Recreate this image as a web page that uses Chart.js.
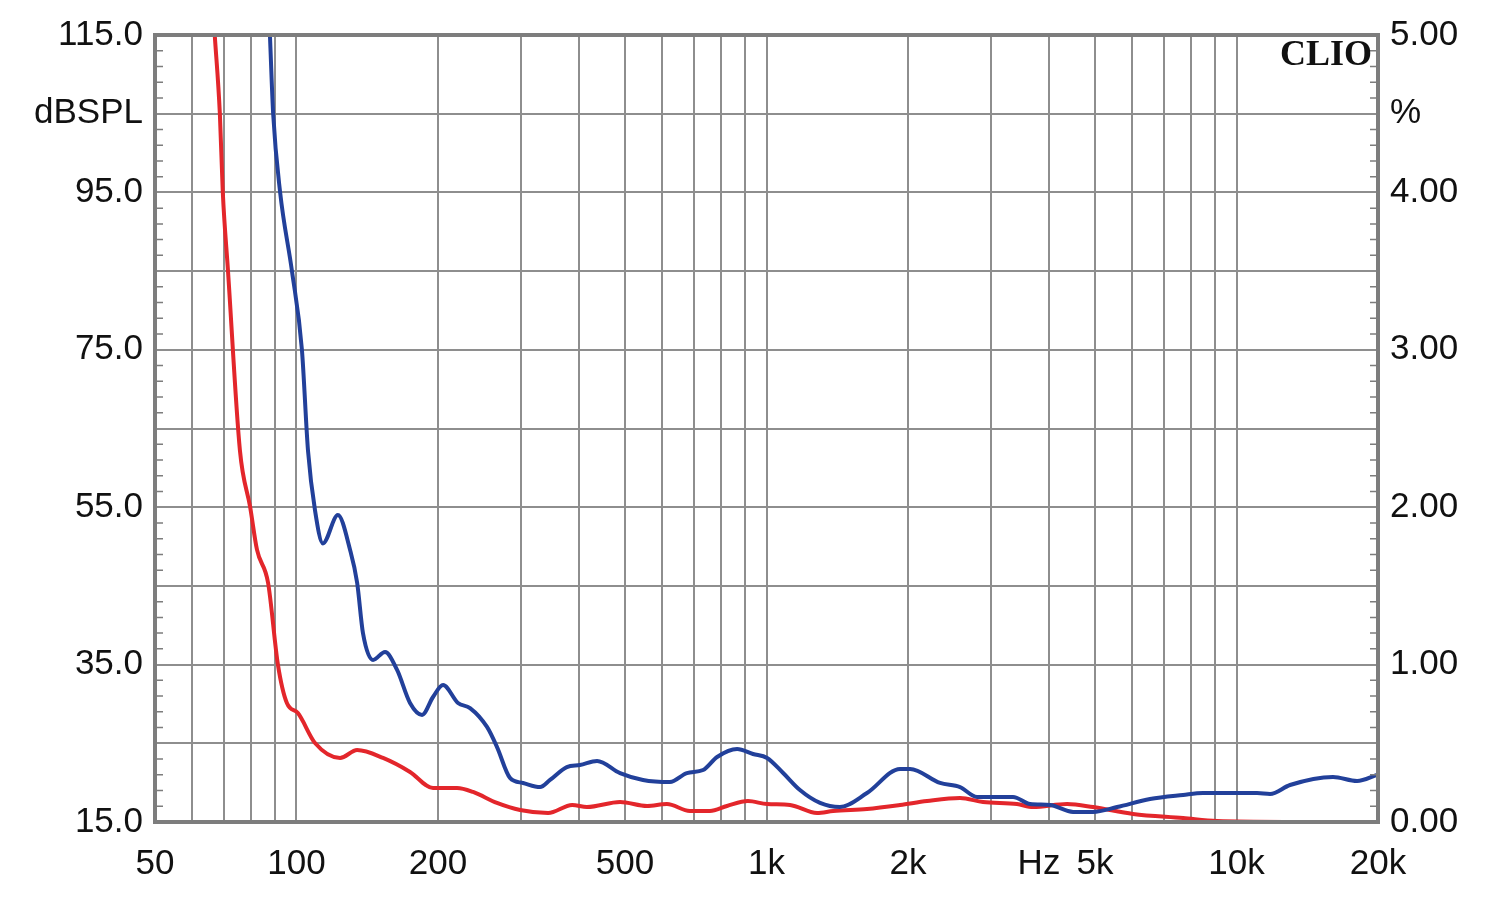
<!DOCTYPE html>
<head>
    <title>CLIO</title>
    <meta charset="utf-8">
    <script src="https://cdn.jsdelivr.net/npm/chart.js"></script>
    <style>
        body { margin: 0; background: #fff; }
    </style>
</head>
<body>
    <canvas id="myChart" width="1500" height="899"></canvas>
    <script>
        // curves, values in % (right axis)
        const redFreq = [67, 68.7, 69.7, 71.5, 75.8, 79.7, 82.4, 87, 91.3, 95.4, 100.7, 109.5, 123.8, 134.6, 152.8, 174.4, 195.2, 219.6, 237.5, 267, 299, 343, 386, 415, 488, 557, 614, 687, 758, 824, 913, 1003, 1122, 1281, 1386, 1636, 1924, 2196, 2581, 2889, 3412, 3690, 4360, 4950, 6022, 7696, 9090, 14124];
        const redPct = [5.0, 4.5, 4.0, 3.5, 2.36, 2.0, 1.73, 1.52, 1.0, 0.756, 0.692, 0.502, 0.407, 0.457, 0.407, 0.318, 0.216, 0.216, 0.191, 0.121, 0.076, 0.057, 0.108, 0.095, 0.127, 0.102, 0.114, 0.07, 0.07, 0.102, 0.133, 0.114, 0.108, 0.057, 0.07, 0.083, 0.108, 0.133, 0.152, 0.127, 0.114, 0.095, 0.114, 0.095, 0.051, 0.025, 0.006, 0.0];
        const blueFreq = [87.8, 89.2, 92.3, 97.8, 102.7, 105.8, 109.5, 113.8, 122.5, 130, 134.6, 138.5, 145.5, 154.3, 163.7, 174.4, 185, 195.2, 205, 220.6, 234, 254.3, 267.1, 284.6, 303.4, 329.8, 346.3, 376, 401, 436, 488, 546, 623, 677, 733, 785, 866, 936, 1003, 1085, 1178, 1300, 1433, 1636, 1924, 2021, 2340, 2581, 2805, 3346, 3637, 4011, 4490, 4950, 5571, 6545, 7696, 8489, 11056, 11784, 12997, 16045, 18050, 19905];
        const bluePct = [5.0, 4.5, 4.0, 3.5, 3.0, 2.36, 1.98, 1.77, 1.95, 1.73, 1.52, 1.2, 1.03, 1.08, 0.966, 0.756, 0.68, 0.794, 0.87, 0.756, 0.724, 0.604, 0.476, 0.28, 0.248, 0.222, 0.267, 0.349, 0.362, 0.388, 0.311, 0.267, 0.254, 0.311, 0.33, 0.413, 0.464, 0.432, 0.407, 0.311, 0.203, 0.121, 0.095, 0.184, 0.337, 0.337, 0.248, 0.222, 0.159, 0.159, 0.114, 0.108, 0.064, 0.064, 0.095, 0.146, 0.172, 0.184, 0.184, 0.178, 0.235, 0.286, 0.26, 0.299];

        // axis ticks and labels
        const xTicks = [50, 60, 70, 80, 90, 100, 200, 300, 400, 500, 600, 700, 800, 900, 1000, 2000, 3000, 3800, 4000, 5000, 6000, 7000, 8000, 9000, 10000, 20000];
        const xLabels = {50: '50', 100: '100', 200: '200', 500: '500', 1000: '1k', 2000: '2k', 3800: 'Hz', 5000: '5k', 10000: '10k', 20000: '20k'};
        const leftLabels = {115: '115.0', 105: 'dBSPL', 95: '95.0', 75: '75.0', 55: '55.0', 35: '35.0', 15: '15.0'};
        const rightLabels = {5: '5.00', 4.5: '%', 4: '4.00', 3: '3.00', 2: '2.00', 1: '1.00', 0: '0.00'};

        const gridColor = '#8e8e8e';
        const frameColor = '#7d7d7d';
        const tickFont = {family: '"Liberation Sans", Arial, sans-serif', size: 35};

        function points(freq, vals) {
            return freq.map((f, i) => ({x: f, y: vals[i]}));
        }

        // frame, small inner ticks and the CLIO mark
        const frame = {
            id: 'frame',
            afterDatasetsDraw(chart) {
                const ctx = chart.ctx;
                const a = chart.chartArea;
                const y = chart.scales.y;
                ctx.save();
                ctx.strokeStyle = frameColor;
                ctx.lineWidth = 4;
                ctx.strokeRect(a.left, a.top, a.right - a.left, a.bottom - a.top);
                ctx.lineWidth = 1.5;
                ctx.beginPath();
                for (let v = 15; v <= 115; v += 2) {
                    if ((v - 15) % 10 == 0) continue;
                    const py = y.getPixelForValue(v);
                    ctx.moveTo(a.left, py);
                    ctx.lineTo(a.left + 8, py);
                    ctx.moveTo(a.right - 8, py);
                    ctx.lineTo(a.right, py);
                }
                ctx.stroke();
                ctx.fillStyle = '#111';
                ctx.font = 'bold 36px "Liberation Serif", serif';
                ctx.textAlign = 'right';
                ctx.textBaseline = 'alphabetic';
                ctx.fillText('CLIO', a.right - 6, 65);
                ctx.restore();
            }
        };

        const ctx = document.getElementById('myChart');
        new Chart(ctx, {
            type: 'line',
            data: {
                datasets: [{
                    label: 'blue',
                    data: points(blueFreq, bluePct),
                    borderColor: '#22409a',
                    borderWidth: 4,
                    pointRadius: 0,
                    cubicInterpolationMode: 'monotone',
                    yAxisID: 'yR'
                }, {
                    label: 'red',
                    data: points(redFreq, redPct),
                    borderColor: '#e3262b',
                    borderWidth: 4,
                    pointRadius: 0,
                    cubicInterpolationMode: 'monotone',
                    yAxisID: 'yR'
                }]
            },
            options: {
                responsive: false,
                animation: false,
                layout: {padding: {top: 35}},
                plugins: {legend: {display: false}, tooltip: {enabled: false}},
                scales: {
                    x: {
                        type: 'logarithmic',
                        min: 50,
                        max: 20000,
                        afterBuildTicks: s => { s.ticks = xTicks.map(v => ({value: v})); },
                        afterFit: s => { s.height = 77; },
                        ticks: {
                            autoSkip: false,
                            maxRotation: 0,
                            padding: 21,
                            color: '#111',
                            font: tickFont,
                            callback: v => xLabels[v] || ''
                        },
                        grid: {
                            color: c => (c.tick && c.tick.value == 3800) ? 'rgba(0,0,0,0)' : gridColor,
                            lineWidth: 2,
                            drawTicks: false
                        },
                        border: {color: frameColor, width: 4}
                    },
                    y: {
                        position: 'left',
                        min: 15,
                        max: 115,
                        afterFit: s => { s.width = 155; },
                        ticks: {
                            stepSize: 10,
                            padding: 12,
                            color: '#111',
                            font: tickFont,
                            callback: v => leftLabels[v] || ''
                        },
                        grid: {color: gridColor, lineWidth: 2, drawTicks: false},
                        border: {color: frameColor, width: 4}
                    },
                    yR: {
                        position: 'right',
                        min: 0,
                        max: 5,
                        afterFit: s => { s.width = 122; },
                        ticks: {
                            stepSize: 0.5,
                            padding: 12,
                            color: '#111',
                            font: tickFont,
                            callback: v => rightLabels[v] || ''
                        },
                        grid: {drawOnChartArea: false, drawTicks: false},
                        border: {color: frameColor, width: 4}
                    }
                }
            },
            plugins: [frame]
        });
    </script>
</body>
</html>
